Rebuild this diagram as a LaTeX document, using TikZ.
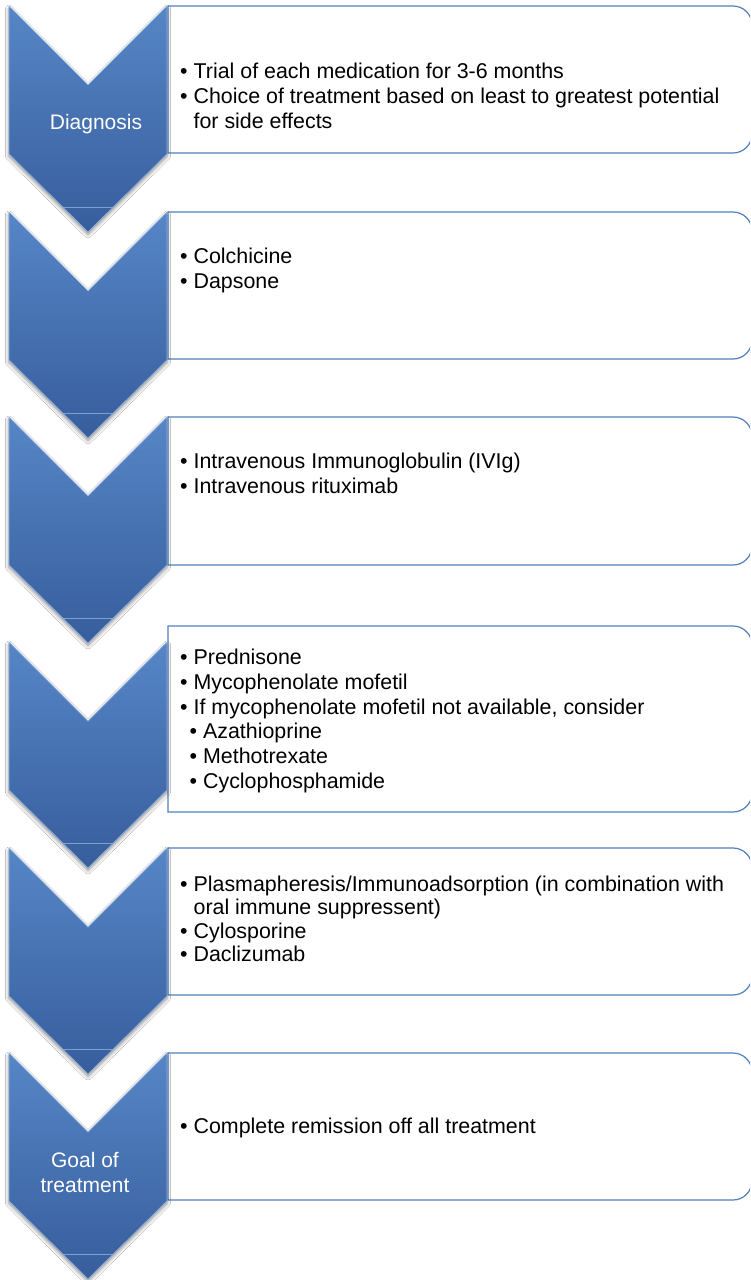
\documentclass[tikz,border=0pt]{standalone}
\usepackage{fontspec}
\setmainfont{Liberation Sans}
\usetikzlibrary{shadows.blur}
\definecolor{chevtop}{RGB}{86,134,199}
\definecolor{chevbot}{RGB}{55,93,156}
\definecolor{chevline}{RGB}{140,176,222}
\definecolor{boxline}{RGB}{79,129,189}
\newcommand\bitem[2][0pt]{\par\setbox0\hbox{\textbullet\ }\hangindent=\dimexpr#1+\wd0\relax\hangafter=1\noindent\hspace*{#1}\box0 #2}
\newcommand\panelbox[2]{\draw[panel] (168,#1) -- (733,#1) arc[start angle=90,end angle=0,radius=19pt] -- (752,#2-19) arc[start angle=0,end angle=-90,radius=19pt] -- (168,#2) -- cycle;}
\newcommand\chevshape[1]{%
  \path[chevron] (9,#1) -- (88,#1+79) -- (167,#1) -- (167,#1+148) -- (88,#1+226) -- (9,#1+148) -- cycle;
  \draw[tipline] (63,#1+201) -- (113,#1+201);}
\tikzset{
  chevron/.style={top color=chevtop, bottom color=chevbot, draw=chevline, line width=0.7pt, line join=miter,
    blur shadow={shadow xshift=0pt, shadow yshift=-2.5pt, shadow blur radius=3.5pt, shadow opacity=45}},
  panel/.style={draw=boxline, line width=1.2pt, fill=white},
  bullets/.style={anchor=base west, inner sep=0pt, font=\fontsize{21.4}{24.8}\selectfont, text=black},
  chevlabel/.style={anchor=base, inner sep=0pt, text=white, font=\fontsize{21}{25}\selectfont},
  tipline/.style={draw=chevline, line width=0.5pt, opacity=0.8}
}
\begin{document}
\begin{tikzpicture}[x=1pt,y=-1pt]
\clip (0,0) rectangle (750,1280);
\fill[white] (0,0) rectangle (750,1280);
% text boxes
\panelbox{6}{153}
\panelbox{212}{359}
\panelbox{417}{565}
\panelbox{626}{812}
\panelbox{848}{995}
\panelbox{1053}{1200}
% chevrons
\chevshape{6}
\chevshape{212}
\chevshape{417}
\chevshape{642}
\chevshape{848}
\chevshape{1053}
% chevron labels
\node[chevlabel] (diag) at (96,129.5) {Diagnosis};
\node[chevlabel] (goal) at (85,1167.5) {\begin{tabular}[t]{@{}c@{}}Goal of\\treatment\end{tabular}};
% box texts
\node[bullets] (t1) at (180,78.5) {\begin{minipage}[t]{560pt}
\bitem{Trial of each medication for 3-6 months}
\bitem{Choice of treatment based on least to greatest potential\newline for side effects}
\end{minipage}};
\node[bullets] (t2) at (180,263.5) {\begin{minipage}[t]{560pt}
\bitem{Colchicine}
\bitem{Dapsone}
\end{minipage}};
\node[bullets] (t3) at (180,468.5) {\begin{minipage}[t]{560pt}
\bitem{Intravenous Immunoglobulin (IVIg)}
\bitem{Intravenous rituximab}
\end{minipage}};
\node[bullets] (t4) at (180,664.5) {\begin{minipage}[t]{560pt}
\bitem{Prednisone}
\bitem{Mycophenolate mofetil}
\bitem{If mycophenolate mofetil not available, consider}
\bitem[9.5pt]{Azathioprine}
\bitem[9.5pt]{Methotrexate}
\bitem[9.5pt]{Cyclophosphamide}
\end{minipage}};
\node[bullets, font=\fontsize{21.4}{23.4}\selectfont] (t5) at (180,891.5) {\begin{minipage}[t]{560pt}
\bitem{Plasmapheresis/Immunoadsorption (in combination with\newline oral immune suppressent)}
\bitem{Cylosporine}
\bitem{Daclizumab}
\end{minipage}};
\node[bullets] (t6) at (180,1133.5) {\begin{minipage}[t]{560pt}
\bitem{Complete remission off all treatment}
\end{minipage}};
\end{tikzpicture}
\end{document}
